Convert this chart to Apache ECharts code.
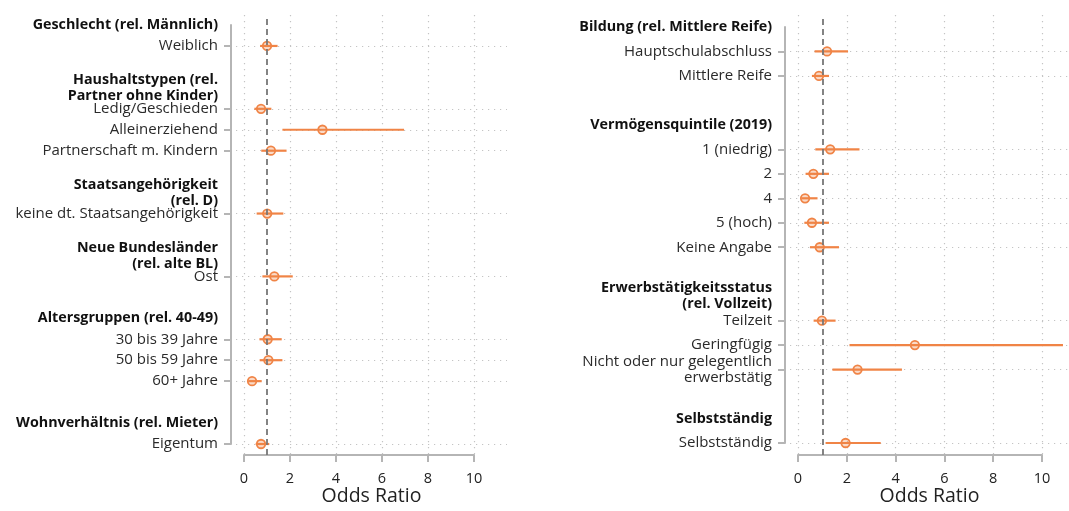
<!DOCTYPE html>
<html>
<head>
<meta charset="utf-8">
<script src="https://cdn.jsdelivr.net/npm/echarts@6/dist/echarts.min.js"></script>
<style>
html,body{margin:0;padding:0;background:#fff;}
#chart{width:1069px;height:511px;}
</style>
</head>
<body>
<div id="chart"></div>
<script>
// ---------------- DATA ----------------
const leftGroups = [
  'Geschlecht (rel. Männlich)',
  'Haushaltstypen (rel.\nPartner ohne Kinder)',
  'Staatsangehörigkeit\n(rel. D)',
  'Neue Bundesländer\n(rel. alte BL)',
  'Altersgruppen (rel. 40-49)',
  'Wohnverhältnis (rel. Mieter)'
];
const leftItems = [
  ['Weiblich'],
  ['Ledig/Geschieden', 'Alleinerziehend', 'Partnerschaft m. Kindern'],
  ['keine dt. Staatsangehörigkeit'],
  ['Ost'],
  ['30 bis 39 Jahre', '50 bis 59 Jahre', '60+ Jahre'],
  ['Eigentum']
];
const leftOR   = [1.00, 0.74, 3.41, 1.17, 1.01, 1.32, 1.03, 1.06, 0.35, 0.74];
const leftLow  = [0.70, 0.45, 1.67, 0.75, 0.55, 0.80, 0.67, 0.68, 0.19, 0.51];
const leftHigh = [1.46, 1.19, 6.96, 1.85, 1.71, 2.12, 1.64, 1.67, 0.77, 1.10];

const rightGroups = [
  'Bildung (rel. Mittlere Reife)',
  'Vermögensquintile (2019)',
  'Erwerbstätigkeitsstatus\n(rel. Vollzeit)',
  'Selbstständig'
];
const rightItems = [
  ['Hauptschulabschluss', 'Mittlere Reife'],
  ['1 (niedrig)', '2', '4', '5 (hoch)', 'Keine Angabe'],
  ['Teilzeit', 'Geringfügig', 'Nicht oder nur gelegentlich\nerwerbstätig'],
  ['Selbstständig']
];
const rightOR   = [1.19, 0.86, 1.32, 0.63, 0.29, 0.57, 0.89, 0.98, 4.79, 2.44, 1.95];
const rightLow  = [0.68, 0.57, 0.71, 0.31, 0.14, 0.26, 0.49, 0.64, 2.11, 1.41, 1.13];
const rightHigh = [2.05, 1.27, 2.52, 1.27, 0.80, 1.27, 1.68, 1.54, 10.86, 4.26, 3.39];

const xMin = 0, xMax = 10, xStep = 2;
const refValue = 1;
const xTitle = 'Odds Ratio';

// ---------------- STYLE / LAYOUT ----------------
const ORANGE = '#f08446';
const FONT = '"Open Sans", "Noto Sans", sans-serif';
const layouts = [
  { L: 236, R: 507, p0: 244, p10: 474, top: 25, bottom: 444 },
  { L: 790, R: 1069, p0: 798, p10: 1042, top: 27, bottom: 443 }
];
const PANEL_TOP = 15, PANEL_BOTTOM = 455;

function buildRows(groups, items) {
  const rows = [];
  const itemRows = [];
  groups.forEach((g, gi) => {
    rows.push({ type: 'header', text: g });
    items[gi].forEach(t => { itemRows.push(rows.length); rows.push({ type: 'item', text: t }); });
    if (gi < groups.length - 1) rows.push({ type: 'blank', text: '' });
  });
  return { rows, itemRows };
}

const grids = [], xAxes = [], yAxes = [], series = [];
const gridLine = { show: true, lineStyle: { color: '#c4c4c4', type: [1.2, 4.8], width: 1.2 } };

function addPanel(groups, items, ors, lows, highs, lay) {
  const { rows, itemRows } = buildRows(groups, items);
  const base = grids.length;
  const scale = (lay.p10 - lay.p0) / (xMax - xMin);
  const yMinX = xMin - (lay.p0 - lay.L) / scale;
  const yMaxX = xMax + (lay.R - lay.p10) / scale;

  grids.push({ left: lay.p0, width: lay.p10 - lay.p0, top: PANEL_TOP, height: PANEL_BOTTOM - PANEL_TOP });
  grids.push({ left: lay.L, width: lay.R - lay.L, top: lay.top, height: lay.bottom - lay.top });
  grids.push({ left: lay.L, width: lay.R - lay.L, top: PANEL_TOP, height: PANEL_BOTTOM - PANEL_TOP });

  xAxes.push({
    gridIndex: base, type: 'value', min: xMin, max: xMax, interval: xStep,
    axisLine: { show: true, onZero: false, lineStyle: { color: '#b5b5b5', width: 2 } },
    axisTick: { show: true, length: 7, lineStyle: { color: '#b5b5b5', width: 2 } },
    axisLabel: { color: '#222', fontFamily: FONT, fontSize: 14.5, margin: 16 },
    splitLine: gridLine
  });
  yAxes.push({ gridIndex: base, type: 'value', min: 0, max: 1, show: false });

  xAxes.push({ gridIndex: base + 1, type: 'value', min: yMinX, max: yMaxX, show: false });
  yAxes.push({
    gridIndex: base + 1, type: 'category', inverse: true, boundaryGap: false,
    data: rows.map((r, i) => 'row' + i),
    offset: 5,
    axisLine: { show: true, onZero: false, lineStyle: { color: '#b5b5b5', width: 2 } },
    axisTick: { show: true, length: 7, interval: (i) => rows[i] && rows[i].type === 'item', lineStyle: { color: '#b5b5b5', width: 2 } },
    axisLabel: {
      interval: 0, margin: 13, align: 'right',
      formatter: (v, i) => {
        const r = rows[i];
        if (!r || r.type === 'blank') return '';
        const key = r.type === 'header' ? 'h' : 'i';
        return r.text.split('\n').map(l => '{' + key + '|' + l + '}').join('\n');
      },
      rich: {
        h: { fontFamily: FONT, fontSize: 14.3, fontWeight: 'bold', color: '#111', lineHeight: 16, align: 'right' },
        i: { fontFamily: FONT, fontSize: 15, color: '#2a2a2a', lineHeight: 16, align: 'right' }
      }
    },
    splitLine: { show: true, interval: (i) => rows[i] && rows[i].type === 'item', lineStyle: gridLine.lineStyle }
  });

  xAxes.push({
    gridIndex: base + 2, type: 'value', min: 0, max: 1,
    axisLine: { show: false }, axisTick: { show: false }, axisLabel: { show: false }, splitLine: { show: false },
    name: xTitle, nameLocation: 'middle', nameGap: 36,
    nameTextStyle: { fontFamily: FONT, fontSize: 19.5, color: '#222' }
  });
  yAxes.push({ gridIndex: base + 2, type: 'value', min: 0, max: 1, show: false });

  series.push({
    type: 'line', xAxisIndex: base, yAxisIndex: base, data: [], silent: true, z: 1,
    markLine: {
      symbol: 'none', silent: true, label: { show: false },
      lineStyle: { color: '#777', type: [6, 4], width: 1.8 },
      data: [{ xAxis: refValue }]
    }
  });

  const ciData = itemRows.map((rowIdx, k) => [lows[k], highs[k], rowIdx]);
  series.push({
    type: 'custom', xAxisIndex: base + 1, yAxisIndex: base + 1, z: 3, clip: false,
    encode: { x: [0, 1], y: 2 },
    data: ciData,
    renderItem: (params, api) => {
      const y = api.value(2);
      const a = api.coord([api.value(0), y]);
      const b = api.coord([api.value(1), y]);
      return { type: 'line', shape: { x1: a[0], y1: a[1], x2: b[0], y2: b[1] },
        style: { stroke: ORANGE, lineWidth: 2.2 } };
    }
  });
  series.push({
    type: 'scatter', xAxisIndex: base + 1, yAxisIndex: base + 1, z: 4,
    symbol: 'circle', symbolSize: 8.5,
    itemStyle: { color: 'rgba(240,132,70,0.3)', borderColor: ORANGE, borderWidth: 1.8, opacity: 1 },
    data: itemRows.map((rowIdx, k) => [ors[k], rowIdx])
  });
}

addPanel(leftGroups, leftItems, leftOR, leftLow, leftHigh, layouts[0]);
addPanel(rightGroups, rightItems, rightOR, rightLow, rightHigh, layouts[1]);

const chart = echarts.init(document.getElementById('chart'), null, { renderer: 'canvas' });
chart.setOption({
  animation: false,
  backgroundColor: '#fff',
  grid: grids,
  xAxis: xAxes,
  yAxis: yAxes,
  series: series
});
</script>
</body>
</html>
